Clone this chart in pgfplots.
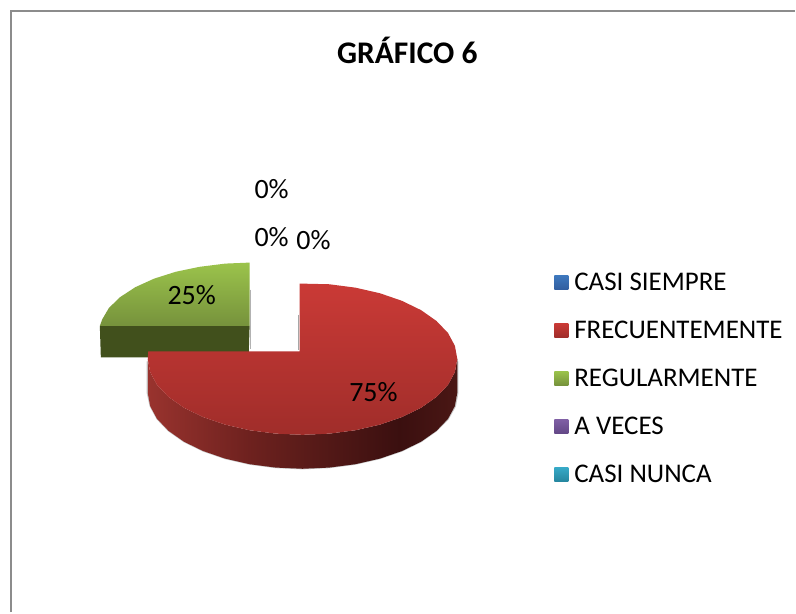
\documentclass[border=0pt]{standalone}
\usepackage{pgfplots}
\pgfplotsset{compat=1.18}
\usepackage{fontspec}
\setmainfont{Carlito}
\definecolor{rtop}{RGB}{202,58,54}
\definecolor{rbot}{RGB}{160,45,42}
\definecolor{gtop}{RGB}{155,195,75}
\definecolor{gbot}{RGB}{118,146,60}
\definecolor{gwall}{RGB}{65,80,28}
\definecolor{btop}{RGB}{62,120,190}
\definecolor{bbot}{RGB}{50,95,160}
\definecolor{ptop}{RGB}{128,96,165}
\definecolor{pbot}{RGB}{100,72,135}
\definecolor{ctop}{RGB}{55,170,200}
\definecolor{cbot}{RGB}{38,135,160}
\pgfdeclarehorizontalshading{redwall}{100bp}{rgb(0bp)=(0.60,0.20,0.18);rgb(25bp)=(0.60,0.20,0.18);rgb(41.5bp)=(0.43,0.13,0.12);rgb(49.5bp)=(0.36,0.11,0.10);rgb(65.6bp)=(0.23,0.06,0.06);rgb(75bp)=(0.29,0.09,0.08);rgb(100bp)=(0.29,0.09,0.08)}
\pgfplotsset{sq/.style n args={2}{legend image code/.code={\shade[top color=#1,bottom color=#2,draw=none] (0pt,-7pt) rectangle (14pt,7pt);\path[draw=none] (0pt,0pt) -- (18pt,0pt);}}}
\begin{document}
\begin{tikzpicture}
\begin{axis}[
  width=796pt,height=613pt,scale only axis,
  xmin=0,xmax=796,ymin=0,ymax=613,y dir=reverse,
  hide axis,clip=false,
  legend style={at={(axis cs:555,271)},anchor=north west,draw=none,fill=none,
    font=\fontsize{27}{32}\selectfont,row sep=25pt,inner sep=0pt},
  legend cell align=left,
]
% legend
\addlegendimage{sq={btop}{bbot}}
\addlegendentry{CASI SIEMPRE}
\addlegendimage{sq={rtop}{rbot}}
\addlegendentry{FRECUENTEMENTE}
\addlegendimage{sq={gtop}{gbot}}
\addlegendentry{REGULARMENTE}
\addlegendimage{sq={ptop}{pbot}}
\addlegendentry{A VECES}
\addlegendimage{sq={ctop}{cbot}}
\addlegendentry{CASI NUNCA}
% page extent
\addplot[forget plot,draw=none,fill=white] coordinates {(0,0) (796,0) (796,613) (0,613)} --cycle;
% frame
\addplot[forget plot,draw={rgb,255:red,140;green,140;blue,140},line width=2.5pt] coordinates {(10.8,613) (10.8,11) (796,11)};
% small grey shadows
\addplot[forget plot,draw=gray!60,line width=1pt] coordinates {(251,290) (251,350)};
\addplot[forget plot,draw=gray!70,line width=1pt] coordinates {(299,315) (299,351)};
% green slice: wall, then top
\addplot[forget plot,draw=none,fill=gwall] coordinates {(100,326.5) (250,326.5) (249,358) (101,358)} --cycle;
\addplot[forget plot,draw=none,top color=gtop,bottom color=gbot] coordinates {
(250,263) (225.6,264.0) (200.0,267.2) (176.0,272.2) (154.3,279.1) (135.6,287.6)
(120.4,297.5) (109.1,308.4) (102.3,320.0) (100.0,326.5) (250,326.5)} --cycle;
% red slice: soft shadow
\addplot[forget plot,draw=gray!45,line width=1.2pt] coordinates {
(458.5,362) (458.5,394) (456,407) (449,419.5) (437.2,431.5) (421.7,442.4) (402.6,451.7) (380.5,459.3) (356,464.9)
(329.9,468.3) (303,469.5) (276.1,468.3) (250,464.9) (225.5,459.3) (203.4,451.7) (184.3,442.4)
(168.8,431.5) (157.3,419.5) (150.4,406.7) (147.5,393.5) (147.5,362)};
% red slice: wall
\addplot[forget plot,draw=none,shading=redwall,shading angle=0] coordinates {
(458,359.5) (455.6,372.7) (448.7,385.5) (437.2,397.5) (421.7,408.4) (402.6,417.7) (380.5,425.3)
(356.0,430.9) (329.9,434.3) (303,435.5) (276.1,434.3) (250.0,430.9) (225.5,425.3) (203.4,417.7)
(184.3,408.4) (168.8,397.5) (157.3,385.5) (150.4,372.7) (148,359.5)
(148,393.5) (150.4,406.7) (157.3,419.5) (168.8,431.5) (184.3,442.4) (203.4,451.7) (225.5,459.3)
(250,464.9) (276.1,468.3) (303,469.5) (329.9,468.3) (356,464.9) (380.5,459.3) (402.6,451.7)
(421.7,442.4) (437.2,431.5) (448.7,419.5) (455.6,406.7) (458,393.5)} --cycle;
% red slice: top
\addplot[forget plot,draw=none,top color=rtop,bottom color=rbot] coordinates {
(300,284) (329.9,284.7) (356.0,288.1) (380.5,293.7) (402.6,301.3) (421.7,310.6) (437.2,321.5)
(448.7,333.5) (455.6,346.3) (458,359.5) (455.6,372.7) (448.7,385.5) (437.2,397.5) (421.7,408.4)
(402.6,417.7) (380.5,425.3) (356.0,430.9) (329.9,434.3) (303,435.5) (276.1,434.3) (250.0,430.9)
(225.5,425.3) (203.4,417.7) (184.3,408.4) (168.8,397.5) (157.3,385.5) (150.4,372.7) (148,359.5)
(148.5,352) (300,352)} --cycle;
% text
\node[font=\fontsize{31.5}{38}\selectfont\bfseries] at (axis cs:408,50) {GRÁFICO 6};
\node[font=\fontsize{28}{32}\selectfont] at (axis cs:272,189) {0\%};
\node[font=\fontsize{28}{32}\selectfont] at (axis cs:272,237) {0\%};
\node[font=\fontsize{28}{32}\selectfont] at (axis cs:314,240) {0\%};
\node[font=\fontsize{28}{32}\selectfont] at (axis cs:192,296) {25\%};
\node[font=\fontsize{28}{32}\selectfont] at (axis cs:374,393) {75\%};
\end{axis}
\end{tikzpicture}
\end{document}
